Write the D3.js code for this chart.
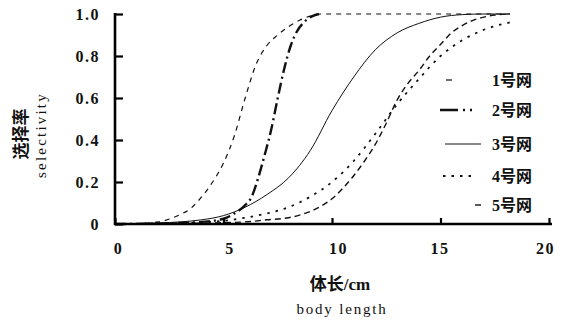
<!DOCTYPE html>
<html><head><meta charset="utf-8">
<script src="https://cdn.jsdelivr.net/npm/d3@7"></script>
<style>
html,body{margin:0;padding:0;background:#fff;}
svg{display:block;}
</style></head>
<body>
<svg id="chart" width="568" height="325"></svg>
<script>
// ---- data ----
const seriesNames = ["1号网", "2号网", "3号网", "4号网", "5号网"];
const x1 = [0, 1, 2, 3, 3.5, 4, 4.5, 5, 5.5, 6, 6.5, 7, 7.5, 8, 8.5, 9, 9.5, 12, 15, 18.2];
const y1 = [0, 0.002, 0.01, 0.045, 0.075, 0.13, 0.2, 0.29, 0.42, 0.6, 0.76, 0.85, 0.9, 0.94, 0.97, 0.99, 1.0, 1.0, 1.0, 1.0];
const x2 = [0, 2, 3, 4, 5, 5.5, 6, 6.3, 6.6, 6.9, 7.2, 7.5, 7.8, 8.1, 8.4, 8.7, 9.1, 9.4];
const y2 = [0, 0.002, 0.005, 0.01, 0.025, 0.05, 0.09, 0.13, 0.22, 0.33, 0.45, 0.6, 0.74, 0.85, 0.92, 0.96, 0.99, 1.0];
const x3 = [0, 2, 3, 4, 5, 6, 7, 8, 9, 10, 11, 12, 13, 14, 15, 16, 17, 18.2];
const y3 = [0, 0.005, 0.01, 0.02, 0.04, 0.08, 0.14, 0.22, 0.35, 0.54, 0.7, 0.83, 0.91, 0.955, 0.985, 0.997, 1.0, 1.0];
const x4 = [0, 2, 4, 5, 6, 7, 8, 9, 10, 11, 12, 13, 14, 15, 16, 17, 18.2];
const y4 = [0, 0.002, 0.008, 0.015, 0.03, 0.05, 0.08, 0.13, 0.2, 0.3, 0.43, 0.57, 0.69, 0.8, 0.875, 0.925, 0.96];
const x5 = [0, 2, 4, 6, 7, 8, 8.5, 9, 9.5, 10, 10.5, 11, 11.5, 12, 12.5, 13, 13.5, 14, 14.5, 15, 15.5, 16, 16.5, 17, 17.5, 18.2];
const y5 = [0, 0.001, 0.004, 0.01, 0.02, 0.03, 0.042, 0.06, 0.085, 0.12, 0.17, 0.23, 0.3, 0.38, 0.48, 0.59, 0.67, 0.73, 0.8, 0.855, 0.91, 0.945, 0.97, 0.985, 0.995, 1.0];
const xTicks = [0, 5, 10, 15, 20];
const yTicks = [0, 0.2, 0.4, 0.6, 0.8, 1.0];
const yTitleCN = "选择率", yTitleEN = "selectivity";
const xTitleCN = "体长/cm", xTitleEN = "body length";

// ---- layout ----
const svg = d3.select("#chart");
const L = 115, T = 14, W = 434, H = 210;
const x = d3.scaleLinear().domain([0, 20]).range([L, L + W]);
const y = d3.scaleLinear().domain([0, 1]).range([T + H, T]);

const serif = "'Liberation Serif','Times New Roman',serif";
const cjk = "'Liberation Serif','Noto Sans CJK SC',serif";

const styles = [
  {w: 1.2, dash: "5,5", leg: null},
  {w: 2.4, dash: "11,4,2,4", leg: "18,5,2,5,2,60"},
  {w: 1.0, dash: null, leg: null},
  {w: 1.8, dash: "2.5,6", leg: "2.5,6"},
  {w: 1.4, dash: "6,4", leg: null}
];
const data = [[x1,y1],[x2,y2],[x3,y3],[x4,y4],[x5,y5]].map(([xs, ys]) => xs.map((v,i)=>[v, ys[i]]));

const line = d3.line().x(d => x(d[0])).y(d => y(d[1])).curve(d3.curveMonotoneX);

data.forEach((d, i) => {
  const p = svg.append("path").datum(d).attr("d", line)
    .attr("fill", "none").attr("stroke", "#111")
    .attr("stroke-width", styles[i].w);
  if (styles[i].dash) p.attr("stroke-dasharray", styles[i].dash);
});

// axes
const yAxis = d3.axisLeft(y).tickValues(yTicks).tickSizeInner(-8).tickSizeOuter(0).tickPadding(15)
  .tickFormat(d => d === 0 ? "0" : d3.format(".1f")(d));
const gy = svg.append("g").attr("transform", `translate(${L},0)`).call(yAxis);
const xAxis = d3.axisBottom(x).tickValues(xTicks).tickSizeInner(-6).tickSizeOuter(0).tickPadding(19)
  .tickFormat(d3.format("d"));
const gx = svg.append("g").attr("transform", `translate(0,${T + H})`).call(xAxis);

[gx, gy].forEach(g => {
  g.select(".domain").attr("stroke", "#000").attr("stroke-width", 2.6);
  g.selectAll(".tick line").attr("stroke", "#000").attr("stroke-width", 2.2);
  g.selectAll(".tick text").attr("fill", "#111").style("font-family", serif)
    .style("font-size", "16px").style("font-weight", "bold").style("letter-spacing", "1.5px");
});
gx.selectAll(".tick text").attr("dx", (d) => d === 0 ? 3 : d === 20 ? -4 : d === 15 ? -1 : 6);
gy.select(".domain").attr("d", `M0,${T - 1}V${T + H + 1}`);
gx.select(".domain").attr("d", `M${L - 1},0H${L + W + 3}`);

// axis titles
svg.append("text").attr("transform", `translate(27,134) rotate(-90)`)
  .attr("text-anchor", "middle").style("font-family", "'Noto Sans CJK SC',sans-serif")
  .style("font-size", "17px").style("font-weight", "bold").attr("fill", "#111").text(yTitleCN);
svg.append("text").attr("transform", `translate(46,135) rotate(-90)`)
  .attr("text-anchor", "middle").style("font-family", serif)
  .style("font-size", "15px").style("letter-spacing", "2.2px").attr("fill", "#111").text(yTitleEN);
svg.append("text").attr("x", 340).attr("y", 290)
  .attr("text-anchor", "middle").style("font-family", cjk)
  .style("font-size", "17px").style("font-weight", "bold").attr("fill", "#111").text(xTitleCN);
svg.append("text").attr("x", 342).attr("y", 314)
  .attr("text-anchor", "middle").style("font-family", serif)
  .style("font-size", "15px").style("letter-spacing", "1.8px").attr("fill", "#111").text(xTitleEN);

// legend
const legY = [80, 110, 144, 176, 205];
const legSample = [[446, 452], [440, 478], [445, 481], [443, 477], [475, 481]];
seriesNames.forEach((name, i) => {
  const ln = svg.append("line").attr("x1", legSample[i][0]).attr("x2", legSample[i][1])
    .attr("y1", legY[i]).attr("y2", legY[i]).attr("stroke", "#111").attr("stroke-width", styles[i].w);
  if (styles[i].leg) ln.attr("stroke-dasharray", styles[i].leg);
  svg.append("text").attr("x", 492).attr("y", legY[i]).attr("dy", "0.35em")
    .style("font-family", cjk).style("font-size", "16px").style("font-weight", "bold")
    .attr("fill", "#111").text(name);
});
</script>
</body></html>
